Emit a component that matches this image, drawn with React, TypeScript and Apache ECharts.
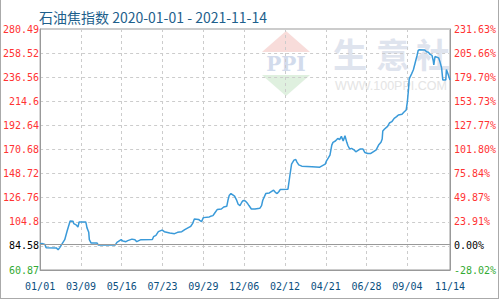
import React, { useEffect, useRef } from "react";
import * as echarts from "echarts";

const TITLE = "石油焦指数 2020-01-01 - 2021-11-14";
const START_DATE = "2020-01-01";
const END_DATE = "2021-11-14";
const BASE_VALUE = 84.58;
const Y_MIN = 60.87;
const Y_MAX = 280.49;

const leftTickLabels = ["60.87", "84.58", "104.8", "126.76", "148.72", "170.68", "192.64", "214.6", "236.56", "258.52", "280.49"];
const rightTickLabels = ["-28.02%", "0.00%", "23.91%", "49.87%", "75.84%", "101.80%", "127.77%", "153.73%", "179.70%", "205.66%", "231.63%"];

const dates = [
  "2020-01-01", "2020-01-04", "2020-01-09", "2020-01-11", "2020-01-28", "2020-01-31", "2020-02-03", "2020-02-06",
  "2020-02-11", "2020-02-15", "2020-02-20", "2020-02-25", "2020-02-26", "2020-03-01", "2020-03-04", "2020-03-06",
  "2020-03-17", "2020-03-18", "2020-03-19", "2020-03-22", "2020-03-23", "2020-03-26", "2020-04-05", "2020-04-07",
  "2020-05-05", "2020-05-08", "2020-05-15", "2020-05-18", "2020-05-23", "2020-05-26", "2020-06-02", "2020-06-07",
  "2020-06-10", "2020-06-17", "2020-07-06", "2020-07-08", "2020-07-12", "2020-07-16", "2020-07-21", "2020-07-23",
  "2020-07-26", "2020-08-04", "2020-08-12", "2020-08-17", "2020-08-24", "2020-08-29", "2020-09-04", "2020-09-08",
  "2020-09-11", "2020-09-14", "2020-09-21", "2020-09-23", "2020-09-26", "2020-09-29", "2020-10-09", "2020-10-11",
  "2020-10-15", "2020-10-18", "2020-10-22", "2020-10-29", "2020-11-02", "2020-11-07", "2020-11-09", "2020-11-11",
  "2020-11-14", "2020-11-17", "2020-11-20", "2020-11-23", "2020-11-26", "2020-11-29", "2020-12-02", "2020-12-04",
  "2020-12-08", "2020-12-11", "2020-12-14", "2020-12-18", "2020-12-24", "2021-01-01", "2021-01-04", "2021-01-06",
  "2021-01-11", "2021-01-17", "2021-01-24", "2021-01-27", "2021-01-30", "2021-02-02", "2021-02-04", "2021-02-17",
  "2021-02-20", "2021-02-23", "2021-02-27", "2021-03-02", "2021-03-04", "2021-03-07", "2021-03-12", "2021-03-29",
  "2021-04-11", "2021-04-20", "2021-04-22", "2021-04-25", "2021-04-28", "2021-05-01", "2021-05-03", "2021-05-07",
  "2021-05-11", "2021-05-14", "2021-05-17", "2021-05-20", "2021-05-23", "2021-05-26", "2021-05-28", "2021-05-31",
  "2021-06-03", "2021-06-07", "2021-06-10", "2021-06-17", "2021-06-22", "2021-06-25", "2021-06-30", "2021-07-05",
  "2021-07-09", "2021-07-14", "2021-07-18", "2021-07-22", "2021-07-24", "2021-07-25", "2021-07-28", "2021-08-02",
  "2021-08-05", "2021-08-09", "2021-08-13", "2021-08-17", "2021-08-20", "2021-08-26", "2021-08-29", "2021-09-02",
  "2021-09-04", "2021-09-06", "2021-09-07", "2021-09-11", "2021-09-14", "2021-09-17", "2021-09-20", "2021-09-22",
  "2021-09-24", "2021-10-03", "2021-10-06", "2021-10-09", "2021-10-12", "2021-10-15", "2021-10-17", "2021-10-18",
  "2021-10-20", "2021-10-26", "2021-10-28", "2021-10-31", "2021-11-02", "2021-11-07", "2021-11-08", "2021-11-11",
  "2021-11-14",
];

const values = [
  84.58, 85.1, 84.2, 81.2, 81.0, 79.4, 81.5, 84.2,
  88.5, 96.4, 105.5, 105.2, 103.1, 102.0, 100.0, 104.6,
  104.6, 102.5, 99.5, 95.2, 88.5, 85.4, 85.4, 83.6,
  83.6, 86.0, 88.5, 87.2, 86.7, 87.6, 89.0, 88.5,
  86.7, 88.5, 88.7, 91.2, 92.4, 95.8, 97.0, 97.0,
  95.8, 94.5, 94.0, 95.2, 95.8, 97.6, 99.5, 100.7,
  103.1, 107.3, 107.0, 106.1, 104.9, 108.6, 109.2, 109.8,
  110.4, 112.8, 115.9, 116.5, 118.3, 118.9, 124.4, 128.7,
  130.5, 129.3, 128.1, 125.1, 120.8, 119.6, 122.6, 124.1,
  123.8, 122.0, 119.6, 116.5, 116.5, 117.1, 119.6, 124.4,
  130.5, 131.1, 133.6, 131.7, 130.5, 132.4, 134.2, 134.5,
  146.3, 157.3, 161.0, 161.6, 159.2, 156.7, 155.5, 155.0,
  154.6, 157.3, 160.1, 162.8, 165.6, 174.7, 177.2, 178.4,
  180.8, 179.6, 182.7, 178.4, 183.3, 177.2, 174.1, 171.1,
  171.7, 170.4, 168.6, 171.1, 171.1, 168.0, 167.1, 167.1,
  168.6, 170.4, 174.7, 177.2, 180.2, 187.5, 189.3, 191.8,
  194.8, 196.0, 199.1, 200.6, 202.1, 202.8, 204.6, 206.7,
  214.3, 226.5, 235.0, 239.6, 243.3, 249.7, 256.1, 260.9,
  261.6, 261.3, 259.7, 259.3, 257.3, 256.5, 251.8, 247.8,
  255.4, 254.2, 251.2, 245.1, 234.1, 234.1, 243.5, 239.0,
  234.1,
];

function buildDays(start: string, end: string): string[] {
  const out: string[] = [];
  const t0 = Date.parse(start + "T00:00:00Z");
  const t1 = Date.parse(end + "T00:00:00Z");
  for (let t = t0; t <= t1; t += 86400000) {
    out.push(new Date(t).toISOString().slice(0, 10));
  }
  return out;
}

const MONO = "DejaVu Sans Mono";

export default function App() {
  const ref = useRef<HTMLDivElement>(null);

  useEffect(() => {
    if (!ref.current) return;
    const chart = echarts.init(ref.current, null, { renderer: "svg" });
    const days = buildDays(START_DATE, END_DATE);
    const last = days.length - 1;
    const step = (Y_MAX - Y_MIN) / 10;
    const tickIdx = (v: number) => Math.round((v - Y_MIN) / step);
    const styleKey = (i: number) => (i === 0 ? "g" : i === 1 ? "k" : "r");
    const rich = {
      r: { color: "#ff3333", fontFamily: MONO, fontSize: 10 },
      k: { color: "#000000", fontFamily: MONO, fontSize: 10 },
      g: { color: "#33aa33", fontFamily: MONO, fontSize: 10 },
    };
    const showX = (i: number) => (i % 68 === 0 && i < 680) || i === last;

    chart.setOption({
      animation: false,
      backgroundColor: "#ffffff",
      title: {
        text: TITLE,
        left: 34,
        top: 5,
        textStyle: { color: "#1e5f8c", fontSize: 14, fontWeight: "normal", fontFamily: "Noto Sans CJK SC" },
      },
      grid: { left: 40, right: 50, top: 29, bottom: 30, show: true, borderColor: "#999999", borderWidth: 1, backgroundColor: "transparent" },
      graphic: [
        { type: "line", z: -5, shape: { x1: 0.5, y1: 0, x2: 0.5, y2: 299 }, style: { stroke: "#aaaaaa", lineWidth: 1 } },
        { type: "line", z: -5, shape: { x1: 498.5, y1: 0, x2: 498.5, y2: 299 }, style: { stroke: "#aaaaaa", lineWidth: 1 } },
        { type: "line", z: -5, shape: { x1: 0, y1: 298.5, x2: 499, y2: 298.5 }, style: { stroke: "#aaaaaa", lineWidth: 1 } },
        { type: "polygon", z: -5, shape: { points: [[262, 52], [286, 31], [310, 52]] }, style: { fill: "#f8dcda" } },
        { type: "polygon", z: -5, shape: { points: [[262, 75], [310, 75], [286, 96]] }, style: { fill: "#dff0df" } },
        { type: "text", z: -5, style: { text: "PPI", x: 286, y: 64, align: "center", verticalAlign: "middle", fill: "#d2dbec", font: "bold 20px 'DejaVu Serif'" } },
        { type: "text", z: -5, style: { text: "生", x: 350, y: 53, align: "center", verticalAlign: "middle", fill: "#dfe4ee", font: "bold 34px 'Noto Sans CJK SC'" } },
        { type: "text", z: -5, style: { text: "意", x: 393, y: 53, align: "center", verticalAlign: "middle", fill: "#dfe4ee", font: "bold 34px 'Noto Sans CJK SC'" } },
        { type: "text", z: -5, style: { text: "社", x: 433, y: 53, align: "center", verticalAlign: "middle", fill: "#dfe4ee", font: "bold 34px 'Noto Sans CJK SC'" } },
        { type: "text", z: -5, style: { text: "WWW.100PPI.COM", x: 391, y: 86, align: "center", verticalAlign: "middle", fill: "#e4e4e4", font: "12.5px 'Liberation Sans'" } },
      ],
      xAxis: {
        type: "category",
        data: days,
        boundaryGap: false,
        axisLine: { lineStyle: { color: "#999999" } },
        axisTick: { show: false },
        axisLabel: {
          interval: (i: number) => showX(i),
          formatter: (v: string) => v.slice(5).replace("-", "/"),
          color: "#0b4f80",
          fontFamily: MONO,
          fontSize: 10,
          margin: 11,
        },
        splitLine: {
          show: true,
          interval: (i: number) => i % 68 === 0 && i > 0 && i < 680,
          lineStyle: { color: "#cccccc", type: [3, 3] },
        },
      },
      yAxis: [
        {
          type: "value",
          min: Y_MIN,
          max: Y_MAX,
          interval: step,
          axisLine: { show: true, lineStyle: { color: "#999999" } },
          axisTick: { show: false },
          axisLabel: {
            margin: 1,
            formatter: (v: number) => {
              const i = tickIdx(v);
              return `{${styleKey(i)}|${leftTickLabels[i]}}`;
            },
            rich,
          },
          splitLine: { show: true, lineStyle: { color: "#cccccc", type: [3, 3] } },
        },
        {
          type: "value",
          position: "right",
          min: Y_MIN,
          max: Y_MAX,
          interval: step,
          axisLine: { show: true, lineStyle: { color: "#999999" } },
          axisTick: { show: false },
          axisLabel: {
            margin: 4,
            formatter: (v: number) => {
              const i = tickIdx(v);
              return `{${styleKey(i)}|${rightTickLabels[i]}}`;
            },
            rich,
          },
          splitLine: { show: false },
        },
      ],
      series: [
        {
          type: "line",
          data: dates.map((d, i) => [d, values[i]]),
          showSymbol: false,
          symbol: "none",
          lineStyle: { color: "#3a9ad9", width: 1.5 },
          z: 3,
          markLine: {
            silent: true,
            symbol: "none",
            label: { show: false },
            lineStyle: { color: "#999999", type: "solid", width: 1 },
            data: [{ yAxis: BASE_VALUE }],
          },
        },
      ],
    });
    return () => chart.dispose();
  }, []);

  return <div ref={ref} style={{ position: "fixed", left: 0, top: 0, width: 500, height: 300 }} />;
}
